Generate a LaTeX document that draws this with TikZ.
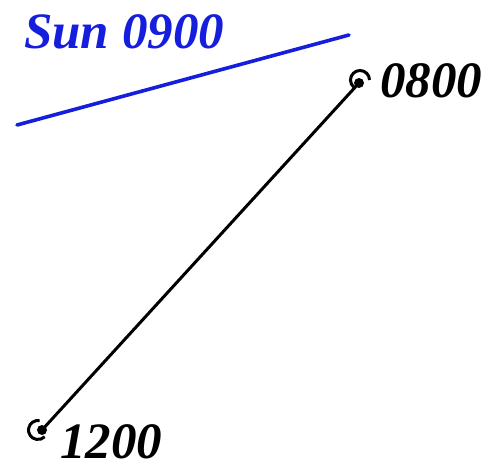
\documentclass[tikz,border=0pt]{standalone}
\usepackage{fontspec}
\setmainfont{Liberation Serif}
\definecolor{sunblue}{RGB}{20,30,220}
\begin{document}
\begin{tikzpicture}[x=1pt,y=-1pt,
  lbl/.style={font=\fontsize{51}{51}\selectfont\bfseries\itshape, inner sep=0pt},
  trail/.style={line width=3pt, line cap=round},
  curl/.style={line width=3pt}]
\useasboundingbox (0,0) rectangle (500,468);
% sun line
\coordinate (s1) at (17,125);
\coordinate (s2) at (349,35);
\draw[trail, sunblue, line width=3.6pt] (s1) -- (s2);
\node[lbl, text=sunblue, anchor=base west] (sun) at (24,49) {Sun 0900};
% path
\coordinate (p8) at (359,83);
\coordinate (p12) at (42,430);
\draw[trail] (p8) -- (p12);
\fill (p8) circle (5);
\fill (p12) circle (5);
\draw[curl] (360,80) ++(0:9.5) arc[start angle=0, end angle=-230, radius=9.5];
\draw[curl] (38,430) ++(-80:9.5) arc[start angle=-80, end angle=-315, radius=9.5];
\node[lbl, anchor=base west] (t8) at (380,98) {0800};
\node[lbl, anchor=base west] (t12) at (60,458) {1200};
\end{tikzpicture}
\end{document}
